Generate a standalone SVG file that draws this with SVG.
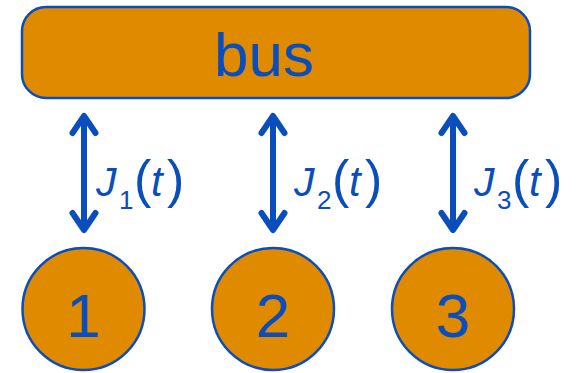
<svg xmlns="http://www.w3.org/2000/svg" width="583" height="373" viewBox="0 0 583 373">
<style>
.shape{fill:#E08A00;stroke:#0A4DBD;stroke-width:2.5}
.big{font-family:"Liberation Sans",Arial,sans-serif;font-size:62px;fill:#0A4DBD;text-anchor:middle}
.lbl{font-family:"Liberation Sans",Arial,sans-serif;fill:#0A4DBD;font-size:40px}
.j{font-style:italic;font-size:41px}
.t{font-style:italic;font-size:42px}
.sub{font-size:26px}
.par{font-size:52px}
.arr{fill:none;stroke:#0A4DBD;stroke-width:6;stroke-linecap:round;stroke-linejoin:round}
</style>
<rect width="583" height="373" fill="#fff"/>
<g id="bus">
<rect class="shape" x="22" y="7" width="508" height="91" rx="24" ry="24"/>
<text class="big" x="264" y="76">bus</text>
</g>
<g id="n1">
<circle class="shape" cx="83.5" cy="309" r="61"/>
<text class="big" x="83.5" y="337">1</text>
</g>
<g id="n2">
<circle class="shape" cx="273" cy="309" r="61"/>
<text class="big" x="273" y="337">2</text>
</g>
<g id="n3">
<circle class="shape" cx="453" cy="309" r="61"/>
<text class="big" x="453" y="337">3</text>
</g>
<g id="connectors">
<g class="arr">
<path d="M84 118V228M72.5 133L84 116L95.5 133M72.5 213L84 230L95.5 213"/>
<path d="M273 118V228M261.5 133L273 116L284.5 133M261.5 213L273 230L284.5 213"/>
<path d="M453 118V228M441.5 133L453 116L464.5 133M441.5 213L453 230L464.5 213"/>
</g>
<text class="lbl"><tspan class="j" x="96" y="196">J</tspan><tspan class="sub" x="119" y="209">1</tspan><tspan class="par" x="134" y="197">(</tspan><tspan class="t" x="151" y="196">t</tspan><tspan class="par" x="167" y="197">)</tspan></text>
<text class="lbl"><tspan class="j" x="294" y="196">J</tspan><tspan class="sub" x="317" y="209">2</tspan><tspan class="par" x="332" y="197">(</tspan><tspan class="t" x="349" y="196">t</tspan><tspan class="par" x="365" y="197">)</tspan></text>
<text class="lbl"><tspan class="j" x="474" y="196">J</tspan><tspan class="sub" x="497" y="209">3</tspan><tspan class="par" x="512" y="197">(</tspan><tspan class="t" x="529" y="196">t</tspan><tspan class="par" x="545" y="197">)</tspan></text>
</g>
</svg>
